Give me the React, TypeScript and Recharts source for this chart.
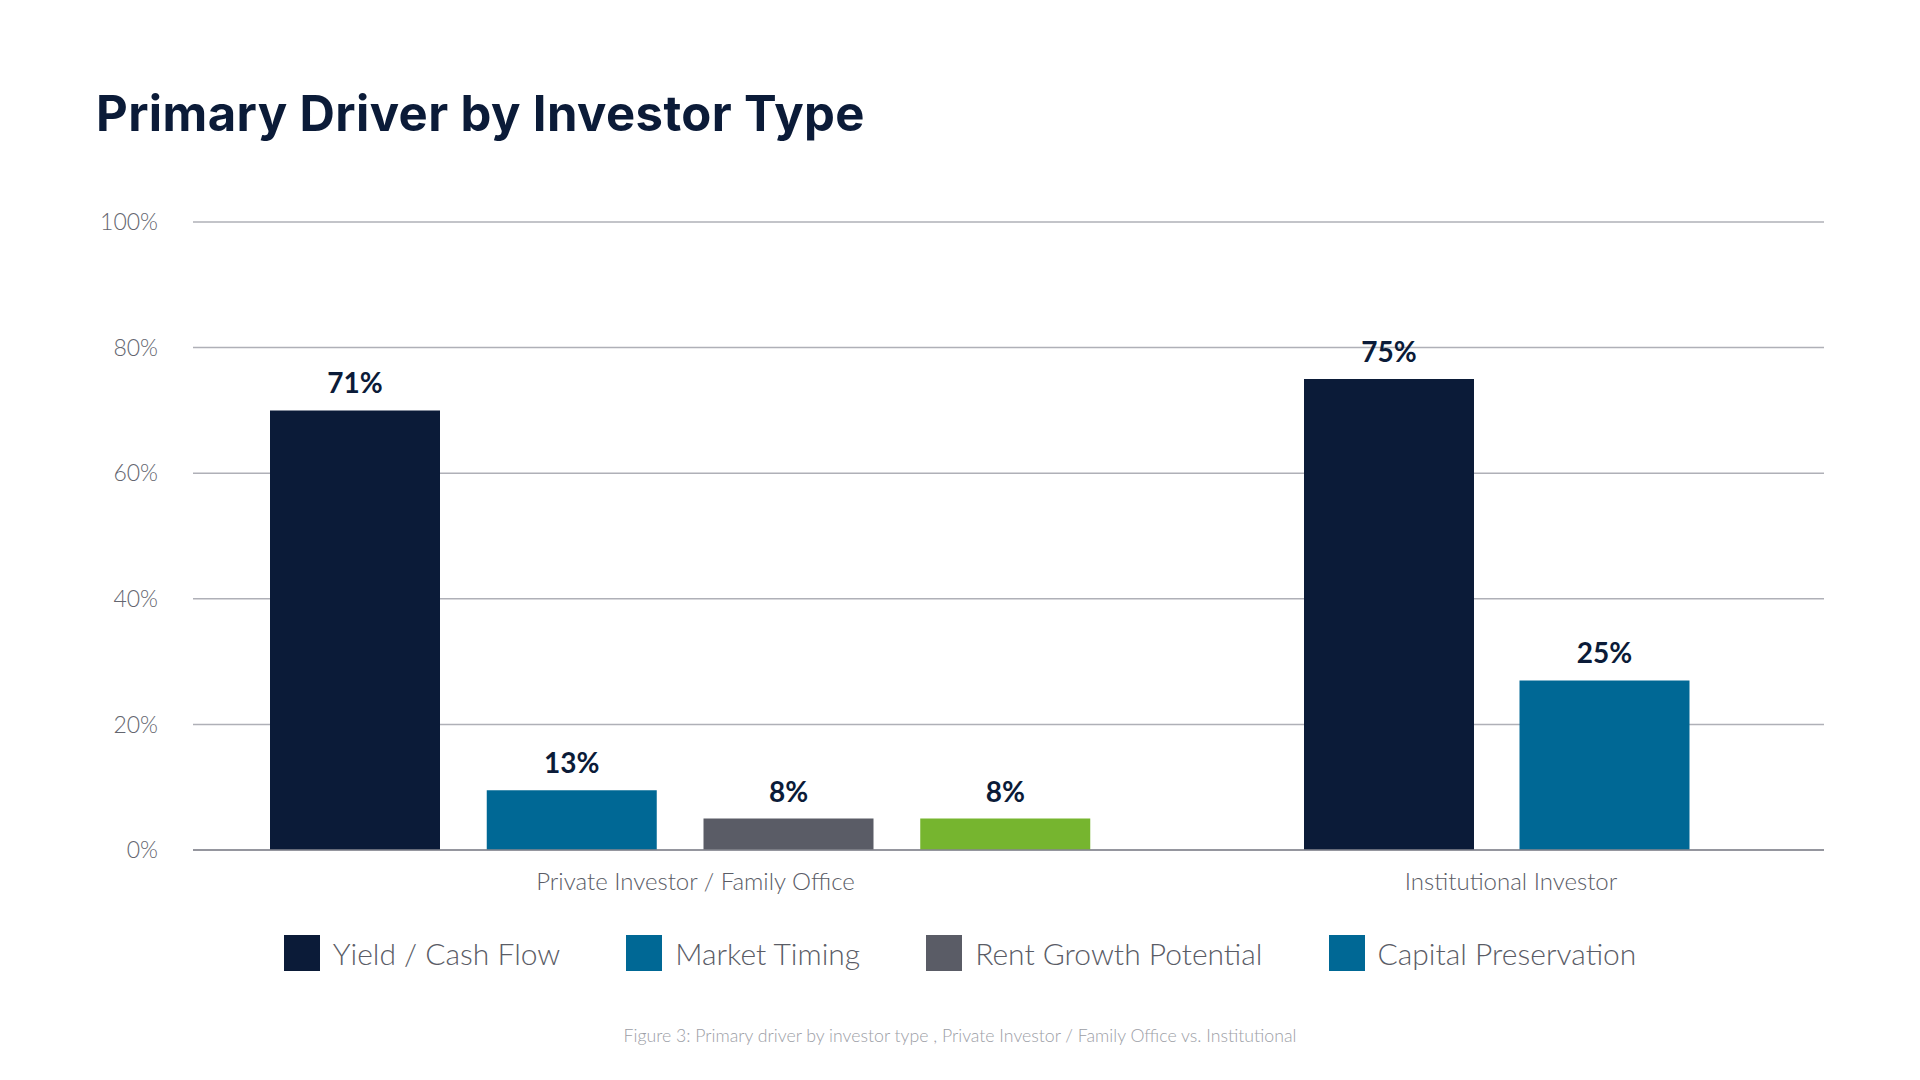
import React from 'react';
import { BarChart, Bar, XAxis, YAxis, CartesianGrid, Cell, LabelList, Label } from 'recharts';

// ---------- data ----------
const legendDrivers = ['Yield / Cash Flow', 'Market Timing', 'Rent Growth Potential', 'Capital Preservation'];
const legendColors = ['#0b1b38', '#006895', '#5a5c66', '#006895'];

const groups = ['Private Investor / Family Office', 'Institutional Investor'];

const privateDrivers = ['Yield / Cash Flow', 'Market Timing', 'Rent Growth Potential', 'Capital Preservation'];
const privateValues = [70, 9.5, 5, 5];
const privateLabels = ['71%', '13%', '8%', '8%'];
const privateColors = ['#0b1b38', '#006895', '#5a5c66', '#76b52f'];

const institutionalDrivers = ['Yield / Cash Flow', 'Capital Preservation'];
const institutionalValues = [75, 27];
const institutionalLabels = ['75%', '25%'];
const institutionalColors = ['#0b1b38', '#006895'];

const yTicks = [0, 20, 40, 60, 80, 100];

const titleText = 'Primary Driver by Investor Type';
const footnoteText =
  'Figure 3: Primary driver by investor type , Private Investor / Family Office vs. Institutional';

// ---------- style ----------
const FONT = "Lato, 'Open Sans', Arial, sans-serif";
const TITLE_FONT = "Inter, Lato, 'Open Sans', Arial, sans-serif";
const NAVY = '#0b1b38';
const TEXT_GRAY = '#5a5c66';
const GRID = '#afb0b7';
const AXIS = '#86878f';

const CHART_TOP = 200;
const CHART_HEIGHT = 713;
const PLOT_LEFT = 193;
const SPLIT_X = 1198;
const PLOT_RIGHT = 1824;

type Row = { driver: string; value: number; label: string };

function makeRows(d: string[], v: number[], l: string[]): Row[] {
  return d.map((driver, i) => ({ driver, value: v[i], label: l[i] }));
}

const privateRows = makeRows(privateDrivers, privateValues, privateLabels);
const institutionalRows = makeRows(institutionalDrivers, institutionalValues, institutionalLabels);

type PanelProps = {
  rows: Row[];
  colors: string[];
  group: string;
  showY: boolean;
  left: number;
  width: number;
  padding: { left: number; right: number };
};

function Panel({ rows, colors, group, showY, left, width, padding }: PanelProps) {
  return (
    <div style={{ position: 'absolute', left, top: CHART_TOP }}>
      <BarChart
        width={width}
        height={CHART_HEIGHT}
        data={rows}
        margin={{ top: 22, right: 0, bottom: 40, left: 0 }}
      >
        <CartesianGrid vertical={false} stroke={GRID} strokeWidth={1.5} />
        <YAxis
          hide={!showY}
          width={PLOT_LEFT}
          domain={[0, 100]}
          ticks={yTicks}
          tickFormatter={(v: number) => `${v}%`}
          axisLine={false}
          tickLine={false}
          tickSize={0}
          tickMargin={35}
          tick={{ fill: '#64666f', fontSize: 23, fontFamily: FONT, fontWeight: 300 }}
        />
        <XAxis
          dataKey="driver"
          tick={false}
          tickLine={false}
          axisLine={{ stroke: AXIS, strokeWidth: 1.5 }}
          height={23}
          padding={padding}
        >
          <Label
            value={group}
            position="bottom"
            offset={0}
            fill={TEXT_GRAY}
            fontSize={24}
            fontFamily={FONT}
            fontWeight={300}
          />
        </XAxis>
        <Bar dataKey="value" barSize={170} isAnimationActive={false}>
          {rows.map((r, i) => (
            <Cell key={r.driver} fill={colors[i]} />
          ))}
          <LabelList
            dataKey="label"
            position="top"
            offset={17}
            fill={NAVY}
            fontSize={28}
            fontWeight={700}
            fontFamily={FONT}
          />
        </Bar>
      </BarChart>
    </div>
  );
}

export default function App() {
  return (
    <div
      style={{
        position: 'absolute',
        left: 0,
        top: 0,
        width: 1920,
        height: 1080,
        background: '#ffffff',
        fontFamily: FONT,
        overflow: 'hidden',
      }}
    >
      <div
        style={{
          position: 'absolute',
          left: 96,
          top: 89,
          fontFamily: TITLE_FONT,
          fontSize: 49,
          lineHeight: 1,
          fontWeight: 700,
          color: NAVY,
          whiteSpace: 'nowrap',
          letterSpacing: 0.4,
        }}
      >
        {titleText}
      </div>

      <Panel
        rows={privateRows}
        colors={privateColors}
        group={groups[0]}
        showY={true}
        left={0}
        width={SPLIT_X}
        padding={{ left: 54, right: 84 }}
      />
      <Panel
        rows={institutionalRows}
        colors={institutionalColors}
        group={groups[1]}
        showY={false}
        left={SPLIT_X}
        width={PLOT_RIGHT - SPLIT_X}
        padding={{ left: 83, right: 112 }}
      />

      <div
        style={{
          position: 'absolute',
          left: 0,
          top: 935,
          width: 1920,
          height: 36,
          display: 'flex',
          justifyContent: 'center',
          alignItems: 'center',
          gap: 66,
        }}
      >
        {legendDrivers.map((d, i) => (
          <div key={d} style={{ display: 'flex', alignItems: 'center' }}>
            <div style={{ width: 36, height: 36, background: legendColors[i], marginRight: 13 }} />
            <span
              style={{
                fontSize: 30,
                lineHeight: '36px',
                color: TEXT_GRAY,
                fontWeight: 300,
                whiteSpace: 'nowrap',
              }}
            >
              {d}
            </span>
          </div>
        ))}
      </div>

      <div
        style={{
          position: 'absolute',
          left: 0,
          top: 1027,
          width: 1920,
          textAlign: 'center',
          fontSize: 17.7,
          lineHeight: 1,
          color: '#9c9ea6',
          fontWeight: 300,
          whiteSpace: 'nowrap',
        }}
      >
        {footnoteText}
      </div>
    </div>
  );
}
